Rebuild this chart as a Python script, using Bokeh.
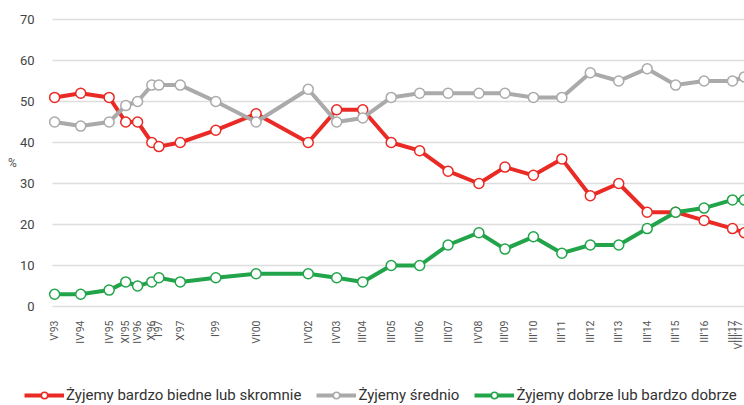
import math
from bokeh.plotting import figure
from bokeh.models import Range1d, FixedTicker, Legend, LegendItem, ColumnDataSource
from bokeh.embed import file_html
from bokeh.resources import INLINE

# ---- data ----
tick_labels = ["V'93", "IV'94", "IV'95", "XI'95", "IV'96", "X'96", "I'97", "X'97",
               "I'99", "VI'00", "IV'02", "IV'03", "III'04", "III'05", "III'06",
               "III'07", "IV'08", "III'09", "III'10", "III'11", "III'12", "III'13",
               "III'14", "III'15", "III'16", "III'17", "VIII'17"]
years = [1993, 1994, 1995, 1995, 1996, 1996, 1997, 1997, 1999, 2000, 2002, 2003,
         2004, 2005, 2006, 2007, 2008, 2009, 2010, 2011, 2012, 2013, 2014, 2015,
         2016, 2017, 2017]
months = [5, 4, 4, 11, 4, 10, 1, 10, 1, 6, 4, 4, 3, 3, 3, 3, 4, 3, 3, 3, 3, 3, 3, 3,
          3, 3, 8]
poor = [51, 52, 51, 45, 45, 40, 39, 40, 43, 47, 40, 48, 48, 40, 38, 33, 30, 34, 32,
        36, 27, 30, 23, 23, 21, 19, 18]
average = [45, 44, 45, 49, 50, 54, 54, 54, 50, 45, 53, 45, 46, 51, 52, 52, 52, 52,
           51, 51, 57, 55, 58, 54, 55, 55, 56]
good = [3, 3, 4, 6, 5, 6, 7, 6, 7, 8, 8, 7, 6, 10, 10, 15, 18, 14, 17, 13, 15, 15,
        19, 23, 24, 26, 26]
series_names = ["Żyjemy bardzo biedne lub skromnie", "Żyjemy średnio",
                "Żyjemy dobrze lub bardzo dobrze"]
y_ticks = [0, 10, 20, 30, 40, 50, 60, 70]

x = [y + (m - 0.5) / 12.0 for y, m in zip(years, months)]

colors = ["#ea2a24", "#aaaaaa", "#22a54a"]

# plotting area spans the whole canvas; axes are pinned inside it
W, H = 744, 405
plot_left_px, plot_top_px, zero_px = 52, 19, 306
x0, x1 = 1993.30, 2017.63
xs_per_px = (x1 - x0) / (W - plot_left_px)
ys_per_px = 70.0 / (zero_px - plot_top_px)
x_start = x0 - plot_left_px * xs_per_px
y_start = -(H - zero_px) * ys_per_px
y_end = 70 + plot_top_px * ys_per_px

p = figure(width=W, height=H, output_backend="svg", toolbar_location=None,
           x_range=Range1d(x_start, x1), y_range=Range1d(y_start, y_end),
           min_border=0)
p.outline_line_color = None
p.background_fill_color = "white"
p.border_fill_color = "white"

items = []
for name, vals, col in zip(series_names, [poor, average, good], colors):
    src = ColumnDataSource(dict(x=x, y=vals))
    ln = p.line("x", "y", source=src, line_color=col, line_width=4)
    sc = p.scatter("x", "y", source=src, size=10, fill_color="white",
                   line_color=col, line_width=1.5)
    items.append(LegendItem(label=name, renderers=[ln, sc]))

# axes
p.xaxis.fixed_location = 0
p.xaxis.bounds = (x0, x1)
p.xaxis.ticker = FixedTicker(ticks=x)
p.xaxis.major_label_overrides = {t: l for t, l in zip(x, tick_labels)}
p.xaxis.major_label_orientation = math.pi / 2
p.xaxis.major_label_text_font = "Roboto"
p.xaxis.major_label_text_font_size = "10.5px"
p.xaxis.major_label_text_color = "#555555"
p.xaxis.major_label_standoff = 8
p.xaxis.axis_line_color = None
p.xaxis.major_tick_line_color = None
p.xaxis.minor_tick_line_color = None

p.yaxis.fixed_location = x0
p.yaxis.bounds = (0, 70)
p.yaxis.ticker = FixedTicker(ticks=y_ticks)
p.yaxis.major_label_text_font = "Roboto"
p.yaxis.major_label_text_font_size = "13px"
p.yaxis.major_label_text_color = "#444444"
p.yaxis.major_label_standoff = 12
p.yaxis.axis_line_color = None
p.yaxis.major_tick_line_color = None
p.yaxis.minor_tick_line_color = None
p.yaxis.axis_label = "%"
p.yaxis.axis_label_orientation = "horizontal"
p.yaxis.axis_label_text_font = "Roboto"
p.yaxis.axis_label_text_font_style = "normal"
p.yaxis.axis_label_text_font_size = "12px"
p.yaxis.axis_label_text_color = "#555555"
p.yaxis.axis_label_standoff = 0

p.xgrid.grid_line_color = None
p.ygrid.ticker = FixedTicker(ticks=y_ticks)
p.ygrid.cross_bounds = (x0, x1)
p.ygrid.grid_line_color = "#dddddd"
p.ygrid.grid_line_width = 1.5

legend = Legend(items=items, orientation="horizontal", location=(24, 1),
                label_text_font="Roboto", label_text_font_size="15px",
                label_text_color="#333333", glyph_width=40, glyph_height=16,
                label_standoff=2, spacing=15, padding=0, margin=0,
                border_line_color=None, background_fill_alpha=0)
p.add_layout(legend, "center")

open("out.html", "w").write(file_html(p, INLINE))
